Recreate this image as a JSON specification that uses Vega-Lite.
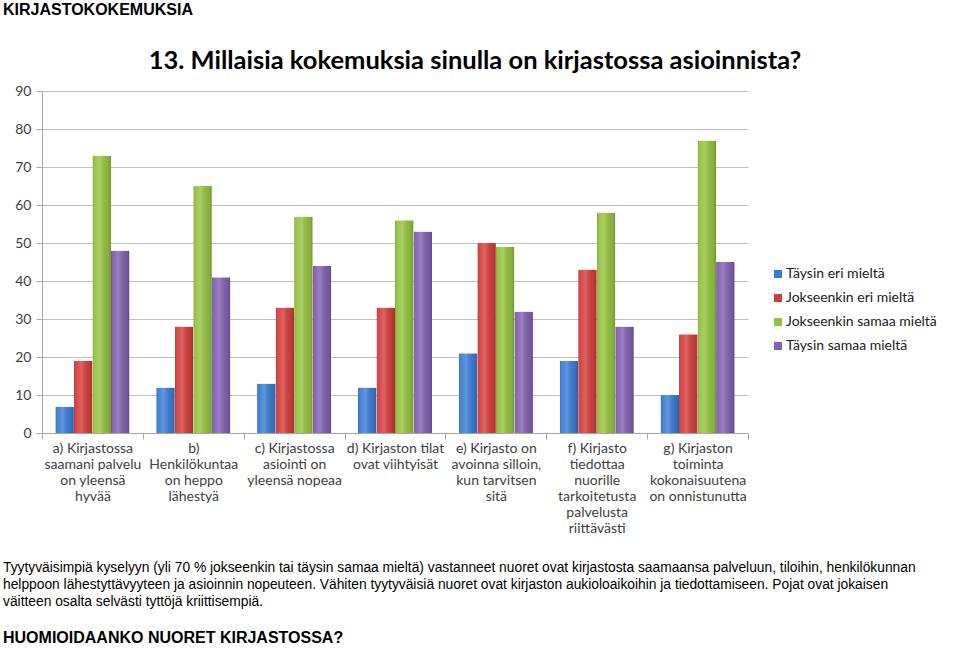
{
  "$schema": "https://vega.github.io/schema/vega-lite/v6.json",
  "background": "white",
  "padding": {"left": 3, "top": 1, "right": 0, "bottom": 0},
  "title": {"text": "KIRJASTOKOKEMUKSIA", "anchor": "start", "font": "Liberation Sans", "fontSize": 16, "fontWeight": "bold", "color": "#000000", "offset": 31},
  "config": {"view": {"stroke": null}},
  "columns": 1,
  "align": "none",
  "bounds": "full",
  "spacing": 24,
  "concat": [
    {
      "width": 706,
      "height": 342,
      "title": {"text": "13. Millaisia kokemuksia sinulla on kirjastossa asioinnista?", "font": "Lato", "fontSize": 25.5, "fontWeight": "bold", "color": "#000000", "anchor": "middle", "offset": 10, "dx": 80},
      "data": {"values": [
        {"q": "a) Kirjastossa\nsaamani palvelu\non yleensä\nhyvää", "s": "Täysin eri mieltä", "v": 7},
        {"q": "a) Kirjastossa\nsaamani palvelu\non yleensä\nhyvää", "s": "Jokseenkin eri mieltä", "v": 19},
        {"q": "a) Kirjastossa\nsaamani palvelu\non yleensä\nhyvää", "s": "Jokseenkin samaa mieltä", "v": 73},
        {"q": "a) Kirjastossa\nsaamani palvelu\non yleensä\nhyvää", "s": "Täysin samaa mieltä", "v": 48},
        {"q": "b)\nHenkilökuntaa\non heppo\nlähestyä", "s": "Täysin eri mieltä", "v": 12},
        {"q": "b)\nHenkilökuntaa\non heppo\nlähestyä", "s": "Jokseenkin eri mieltä", "v": 28},
        {"q": "b)\nHenkilökuntaa\non heppo\nlähestyä", "s": "Jokseenkin samaa mieltä", "v": 65},
        {"q": "b)\nHenkilökuntaa\non heppo\nlähestyä", "s": "Täysin samaa mieltä", "v": 41},
        {"q": "c) Kirjastossa\nasiointi on\nyleensä nopeaa", "s": "Täysin eri mieltä", "v": 13},
        {"q": "c) Kirjastossa\nasiointi on\nyleensä nopeaa", "s": "Jokseenkin eri mieltä", "v": 33},
        {"q": "c) Kirjastossa\nasiointi on\nyleensä nopeaa", "s": "Jokseenkin samaa mieltä", "v": 57},
        {"q": "c) Kirjastossa\nasiointi on\nyleensä nopeaa", "s": "Täysin samaa mieltä", "v": 44},
        {"q": "d) Kirjaston tilat\novat viihtyisät", "s": "Täysin eri mieltä", "v": 12},
        {"q": "d) Kirjaston tilat\novat viihtyisät", "s": "Jokseenkin eri mieltä", "v": 33},
        {"q": "d) Kirjaston tilat\novat viihtyisät", "s": "Jokseenkin samaa mieltä", "v": 56},
        {"q": "d) Kirjaston tilat\novat viihtyisät", "s": "Täysin samaa mieltä", "v": 53},
        {"q": "e) Kirjasto on\navoinna silloin,\nkun tarvitsen\nsitä", "s": "Täysin eri mieltä", "v": 21},
        {"q": "e) Kirjasto on\navoinna silloin,\nkun tarvitsen\nsitä", "s": "Jokseenkin eri mieltä", "v": 50},
        {"q": "e) Kirjasto on\navoinna silloin,\nkun tarvitsen\nsitä", "s": "Jokseenkin samaa mieltä", "v": 49},
        {"q": "e) Kirjasto on\navoinna silloin,\nkun tarvitsen\nsitä", "s": "Täysin samaa mieltä", "v": 32},
        {"q": "f) Kirjasto\ntiedottaa\nnuorille\ntarkoitetusta\npalvelusta\nriittävästi", "s": "Täysin eri mieltä", "v": 19},
        {"q": "f) Kirjasto\ntiedottaa\nnuorille\ntarkoitetusta\npalvelusta\nriittävästi", "s": "Jokseenkin eri mieltä", "v": 43},
        {"q": "f) Kirjasto\ntiedottaa\nnuorille\ntarkoitetusta\npalvelusta\nriittävästi", "s": "Jokseenkin samaa mieltä", "v": 58},
        {"q": "f) Kirjasto\ntiedottaa\nnuorille\ntarkoitetusta\npalvelusta\nriittävästi", "s": "Täysin samaa mieltä", "v": 28},
        {"q": "g) Kirjaston\ntoiminta\nkokonaisuutena\non onnistunutta", "s": "Täysin eri mieltä", "v": 10},
        {"q": "g) Kirjaston\ntoiminta\nkokonaisuutena\non onnistunutta", "s": "Jokseenkin eri mieltä", "v": 26},
        {"q": "g) Kirjaston\ntoiminta\nkokonaisuutena\non onnistunutta", "s": "Jokseenkin samaa mieltä", "v": 77},
        {"q": "g) Kirjaston\ntoiminta\nkokonaisuutena\non onnistunutta", "s": "Täysin samaa mieltä", "v": 45}
      ]},
      "encoding": {
        "x": {
          "field": "q", "type": "nominal", "sort": null, "title": null,
          "scale": {"paddingInner": 0, "paddingOuter": 0},
          "axis": {
            "labelExpr": "split(datum.label, '\\n')",
            "labelAngle": 0, "labelFont": "Lato", "labelFontSize": 14, "labelColor": "#404040",
            "labelLineHeight": 16, "labelBaseline": "top", "labelPadding": 2, "labelLimit": 200,
            "labelOverlap": false, "labelBound": false,
            "tickBand": "extent", "tickSize": 6, "tickColor": "#A6A6A6", "domainColor": "#A6A6A6"
          }
        },
        "xOffset": {
          "field": "s", "type": "nominal",
          "sort": ["Täysin eri mieltä", "Jokseenkin eri mieltä", "Jokseenkin samaa mieltä", "Täysin samaa mieltä"],
          "scale": {"paddingInner": 0, "paddingOuter": 0.72}
        },
        "y": {
          "field": "v", "type": "quantitative", "title": null,
          "scale": {"domain": [0, 90], "nice": false},
          "axis": {
            "values": [0, 10, 20, 30, 40, 50, 60, 70, 80, 90],
            "labelFont": "Lato", "labelFontSize": 14, "labelColor": "#404040", "labelPadding": 5,
            "tickSize": 6, "tickColor": "#A6A6A6", "domainColor": "#A6A6A6",
            "gridColor": "#BFBFBF", "minExtent": 39
          }
        }
      },
      "layer": [
        {
          "mark": {"type": "bar", "cornerRadiusTopLeft": 1, "cornerRadiusTopRight": 1},
          "encoding": {
            "color": {
              "field": "s", "type": "nominal",
              "scale": {
                "domain": ["Täysin eri mieltä", "Jokseenkin eri mieltä", "Jokseenkin samaa mieltä", "Täysin samaa mieltä"],
                "range": ["#3A7CD4", "#D53D3C", "#95C23F", "#8260B2"]
              },
              "legend": {
                "title": null, "orient": "none", "legendX": 729, "legendY": 176,
                "symbolType": "square", "symbolSize": 64, "symbolStrokeWidth": 0,
                "labelFont": "Lato", "labelFontSize": 14, "labelColor": "#202020",
                "rowPadding": 10, "labelOffset": 1
              }
            }
          }
        },
        {
          "mark": {
            "type": "bar", "cornerRadiusTopLeft": 1, "cornerRadiusTopRight": 1,
            "fill": {
              "gradient": "linear", "x1": 0, "y1": 0, "x2": 1, "y2": 0,
              "stops": [
                {"offset": 0, "color": "rgba(0,0,0,0.22)"},
                {"offset": 0.12, "color": "rgba(255,255,255,0.05)"},
                {"offset": 0.4, "color": "rgba(255,255,255,0.2)"},
                {"offset": 0.85, "color": "rgba(0,0,0,0.08)"},
                {"offset": 1, "color": "rgba(0,0,0,0.25)"}
              ]
            }
          },
          "encoding": {}
        }
      ]
    },
    {
      "width": 916,
      "height": 51,
      "title": {"text": "HUOMIOIDAANKO NUORET KIRJASTOSSA?", "orient": "bottom", "anchor": "start", "font": "Liberation Sans", "fontSize": 16, "fontWeight": "bold", "color": "#000000", "offset": 20},
      "data": {"values": [
        {"line": 1, "text": "Tyytyväisimpiä kyselyyn (yli 70 % jokseenkin tai täysin samaa mieltä) vastanneet nuoret ovat kirjastosta saamaansa palveluun, tiloihin, henkilökunnan"},
        {"line": 2, "text": "helppoon lähestyttävyyteen ja asioinnin nopeuteen. Vähiten tyytyväisiä nuoret ovat kirjaston aukioloaikoihin ja tiedottamiseen. Pojat ovat jokaisen"},
        {"line": 3, "text": "väitteen osalta selvästi tyttöjä kriittisempiä."}
      ]},
      "mark": {"type": "text", "align": "left", "baseline": "middle", "font": "Liberation Sans", "fontSize": 13.8, "color": "#000000", "dx": -39},
      "encoding": {
        "x": {"datum": 0, "type": "quantitative", "scale": {"domain": [0, 1]}, "axis": null},
        "y": {"field": "line", "type": "ordinal", "axis": null, "scale": {"paddingInner": 0, "paddingOuter": 0}},
        "text": {"field": "text"}
      }
    }
  ]
}
